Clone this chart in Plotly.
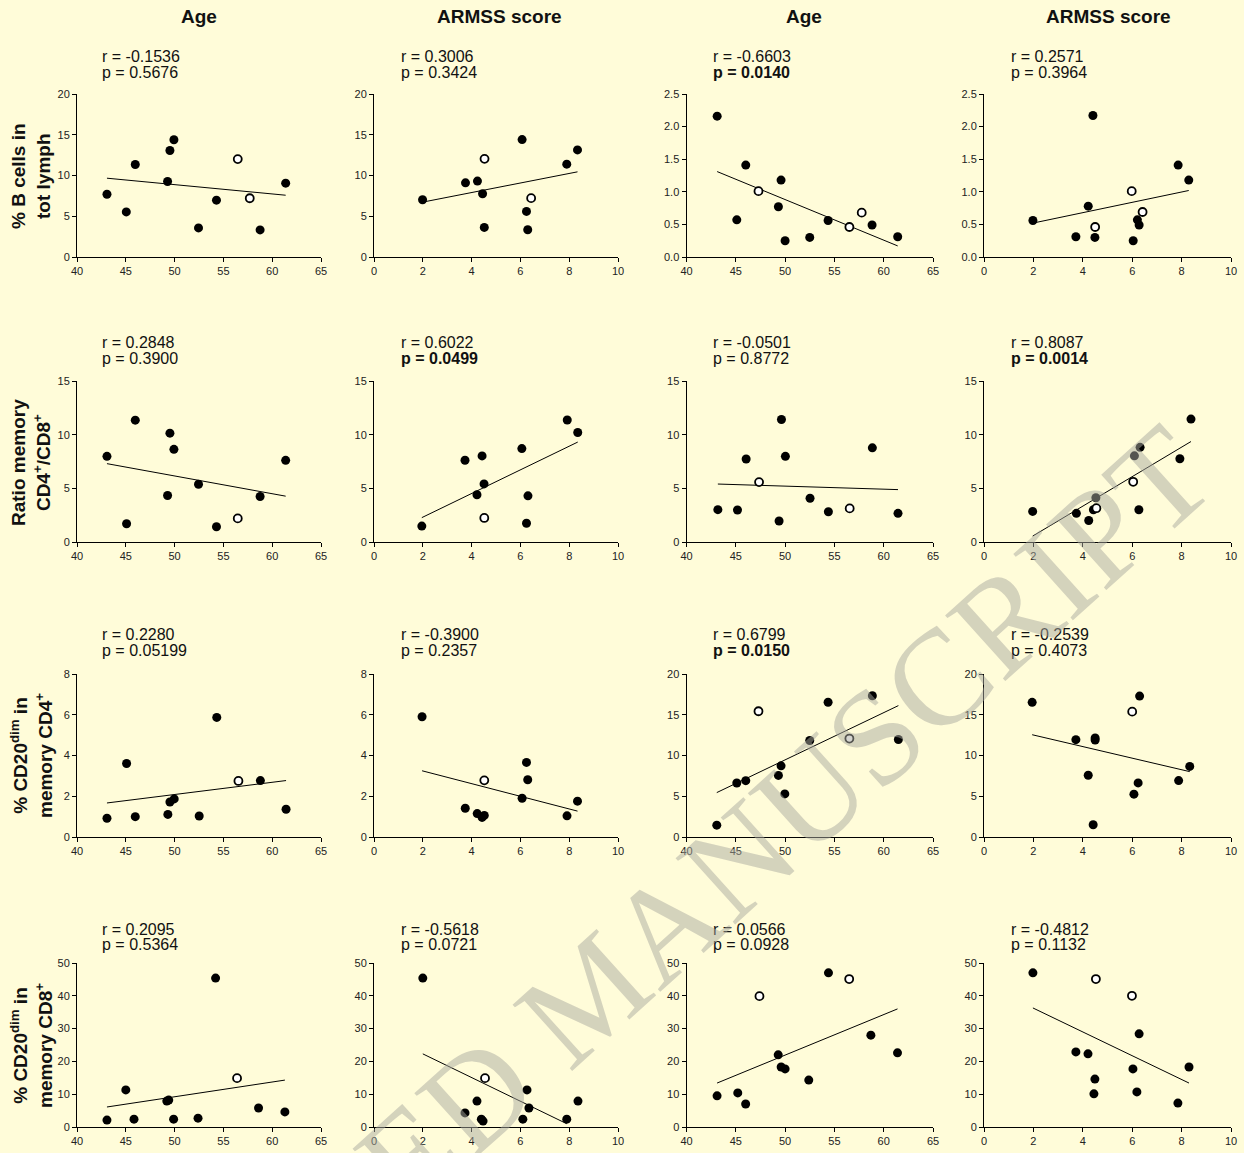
import plotly.graph_objects as go

W, H = 1244, 1153

# ---------------- data ----------------
col_titles = ["Age", "ARMSS score", "Age", "ARMSS score"]
row_titles = [
    "% B cells in<br>tot lymph",
    "Ratio memory<br>CD4<sup>+</sup>/CD8<sup>+</sup>",
    "% CD20<sup>dim</sup> in<br>memory CD4<sup>+</sup>",
    "% CD20<sup>dim</sup> in<br>memory CD8<sup>+</sup>",
]

# row 1
p11_x = [43.07, 45.05, 45.97, 49.28, 49.52, 49.93, 52.45, 54.29, 56.47, 57.70, 58.76, 61.38]
p11_y = [7.70, 5.53, 11.35, 9.26, 13.07, 14.39, 3.57, 6.97, 12.01, 7.21, 3.32, 9.06]
p11_open = [0, 0, 0, 0, 0, 0, 0, 0, 1, 1, 0, 0]
p11_fit_x = [43.07, 61.38]
p11_fit_y = [9.67, 7.58]

p12_x = [1.99, 3.75, 4.24, 4.45, 4.53, 4.52, 6.07, 6.25, 6.30, 6.44, 7.90, 8.34]
p12_y = [7.02, 9.10, 9.31, 7.76, 12.04, 3.63, 14.41, 5.59, 3.35, 7.22, 11.39, 13.14]
p12_open = [0, 0, 0, 0, 1, 0, 0, 0, 0, 1, 0, 0]
p12_fit_x = [1.99, 8.34]
p12_fit_y = [6.73, 10.45]

p13_x = [43.11, 45.10, 46.01, 47.30, 49.32, 49.59, 50.00, 52.50, 54.36, 56.52, 57.77, 58.82, 61.42]
p13_y = [2.16, 0.57, 1.41, 1.01, 0.77, 1.18, 0.25, 0.30, 0.56, 0.46, 0.68, 0.49, 0.31]
p13_open = [0, 0, 0, 1, 0, 0, 0, 0, 0, 1, 1, 0, 0]
p13_fit_x = [43.11, 61.42]
p13_fit_y = [1.31, 0.17]

p14_x = [1.98, 3.72, 4.22, 4.41, 4.49, 4.50, 5.98, 6.04, 6.21, 6.28, 6.42, 7.86, 8.29]
p14_y = [0.56, 0.31, 0.78, 2.17, 0.30, 0.46, 1.01, 0.25, 0.57, 0.49, 0.69, 1.41, 1.18]
p14_open = [0, 0, 0, 0, 0, 1, 1, 0, 0, 0, 1, 0, 0]
p14_fit_x = [1.98, 8.29]
p14_fit_y = [0.52, 1.02]

# row 2
p21_x = [43.07, 45.08, 45.97, 49.28, 49.52, 49.93, 52.45, 54.29, 56.47, 58.76, 61.38]
p21_y = [7.98, 1.70, 11.35, 4.33, 10.14, 8.63, 5.38, 1.42, 2.20, 4.24, 7.61]
p21_open = [0, 0, 0, 0, 0, 0, 0, 0, 1, 0, 0]
p21_fit_x = [43.07, 61.38]
p21_fit_y = [7.30, 4.27]

p22_x = [1.96, 3.73, 4.22, 4.43, 4.51, 4.52, 6.06, 6.25, 6.31, 7.92, 8.35]
p22_y = [1.48, 7.62, 4.40, 8.02, 5.41, 2.24, 8.70, 1.75, 4.30, 11.37, 10.20]
p22_open = [0, 0, 0, 0, 0, 1, 0, 0, 0, 0, 0]
p22_fit_x = [1.96, 8.35]
p22_fit_y = [2.27, 9.31]

p23_x = [43.18, 45.17, 46.05, 47.36, 49.39, 49.63, 50.03, 52.53, 54.39, 56.55, 58.85, 61.45]
p23_y = [3.01, 2.98, 7.73, 5.58, 1.96, 11.41, 7.98, 4.08, 2.82, 3.13, 8.77, 2.67]
p23_open = [0, 0, 0, 1, 0, 0, 0, 0, 0, 1, 0, 0]
p23_fit_x = [43.18, 61.45]
p23_fit_y = [5.40, 4.88]

p24_x = [1.97, 3.74, 4.24, 4.43, 4.53, 4.55, 6.04, 6.09, 6.27, 6.32, 7.93, 8.38]
p24_y = [2.85, 2.67, 2.00, 3.00, 4.12, 3.15, 5.61, 8.03, 3.00, 8.82, 7.76, 11.45]
p24_open = [0, 0, 0, 0, 0, 1, 1, 0, 0, 0, 0, 0]
p24_fit_x = [1.97, 8.38]
p24_fit_y = [0.55, 9.36]

# row 3
p31_x = [43.07, 45.08, 45.97, 49.31, 49.52, 49.96, 52.52, 54.32, 56.54, 58.79, 61.42]
p31_y = [0.92, 3.61, 1.00, 1.11, 1.72, 1.87, 1.03, 5.87, 2.75, 2.77, 1.36]
p31_open = [0, 0, 0, 0, 0, 0, 0, 0, 1, 0, 0]
p31_fit_x = [43.07, 61.42]
p31_fit_y = [1.67, 2.77]

p32_x = [1.97, 3.74, 4.23, 4.43, 4.52, 4.52, 6.07, 6.25, 6.30, 7.91, 8.34]
p32_y = [5.90, 1.41, 1.15, 0.96, 1.06, 2.78, 1.90, 3.66, 2.81, 1.04, 1.76]
p32_open = [0, 0, 0, 0, 0, 1, 0, 0, 0, 0, 0]
p32_fit_x = [1.97, 8.34]
p32_fit_y = [3.25, 1.27]

p33_x = [43.07, 45.10, 46.01, 47.30, 49.32, 49.59, 49.97, 52.50, 54.36, 56.52, 58.85, 61.49]
p33_y = [1.45, 6.63, 6.91, 15.43, 7.56, 8.73, 5.29, 11.84, 16.53, 12.08, 17.33, 11.96]
p33_open = [0, 0, 0, 1, 0, 0, 0, 0, 0, 1, 0, 0]
p33_fit_x = [43.07, 61.49]
p33_fit_y = [5.45, 16.12]

p34_x = [1.95, 3.72, 4.22, 4.42, 4.50, 4.50, 6.00, 6.07, 6.24, 6.30, 7.88, 8.33]
p34_y = [16.52, 11.94, 7.57, 1.50, 11.90, 12.15, 15.38, 5.26, 6.64, 17.29, 6.92, 8.66]
p34_open = [0, 0, 0, 0, 0, 0, 1, 0, 0, 0, 0, 0]
p34_fit_x = [1.95, 8.33]
p34_fit_y = [12.55, 8.02]

# row 4
p41_x = [43.07, 45.00, 45.84, 49.20, 49.40, 49.90, 52.40, 54.20, 56.40, 58.60, 61.30]
p41_y = [2.1, 11.3, 2.4, 7.9, 8.2, 2.4, 2.7, 45.4, 14.9, 5.8, 4.6]
p41_open = [0, 0, 0, 0, 0, 0, 0, 0, 1, 0, 0]
p41_fit_x = [43.07, 61.30]
p41_fit_y = [6.1, 14.3]

p42_x = [2.00, 3.73, 4.22, 4.40, 4.47, 4.55, 6.10, 6.27, 6.35, 7.90, 8.36]
p42_y = [45.4, 4.3, 7.9, 2.4, 1.8, 14.9, 2.4, 11.3, 5.8, 2.4, 7.9]
p42_open = [0, 0, 0, 0, 0, 1, 0, 0, 0, 0, 0]
p42_fit_x = [2.00, 7.90]
p42_fit_y = [22.3, 1.0]

p43_x = [43.10, 45.20, 46.00, 47.40, 49.30, 49.60, 50.00, 52.40, 54.40, 56.50, 58.70, 61.40]
p43_y = [9.5, 10.4, 7.0, 39.9, 22.0, 18.3, 17.7, 14.3, 47.0, 45.1, 28.0, 22.6]
p43_open = [0, 0, 0, 1, 0, 0, 0, 0, 0, 1, 0, 0]
p43_fit_x = [43.10, 61.40]
p43_fit_y = [13.4, 36.0]

p44_x = [1.98, 3.72, 4.21, 4.45, 4.49, 4.53, 5.99, 6.03, 6.19, 6.28, 7.85, 8.30]
p44_y = [47.0, 22.9, 22.3, 10.1, 14.6, 45.1, 40.0, 17.7, 10.7, 28.4, 7.3, 18.3]
p44_open = [0, 0, 0, 0, 0, 1, 1, 0, 0, 0, 0, 0]
p44_fit_x = [1.98, 8.30]
p44_fit_y = [36.3, 13.4]

# r / p statistics (value, p, p significant -> bold)
r_vals = [["-0.1536", "0.3006", "-0.6603", "0.2571"],
          ["0.2848", "0.6022", "-0.0501", "0.8087"],
          ["0.2280", "-0.3900", "0.6799", "-0.2539"],
          ["0.2095", "-0.5618", "0.0566", "-0.4812"]]
p_vals = [["0.5676", "0.3424", "0.0140", "0.3964"],
          ["0.3900", "0.0499", "0.8772", "0.0014"],
          ["0.05199", "0.2357", "0.0150", "0.4073"],
          ["0.5364", "0.0721", "0.0928", "0.1132"]]
p_bold = [[0, 0, 1, 0],
          [0, 1, 0, 1],
          [0, 0, 1, 0],
          [0, 0, 0, 0]]

# axes
x_ranges = [[40, 65], [0, 10], [40, 65], [0, 10]]
x_dticks = [5, 2, 5, 2]
y_ranges = [[[0, 20], [0, 20], [0, 2.5], [0, 2.5]],
            [[0, 15], [0, 15], [0, 15], [0, 15]],
            [[0, 8], [0, 8], [0, 20], [0, 20]],
            [[0, 50], [0, 50], [0, 50], [0, 50]]]
y_dticks = [[5, 5, 0.5, 0.5],
            [5, 5, 5, 5],
            [2, 2, 5, 5],
            [10, 10, 10, 10]]

panels = [
    [(p11_x, p11_y, p11_open, p11_fit_x, p11_fit_y), (p12_x, p12_y, p12_open, p12_fit_x, p12_fit_y),
     (p13_x, p13_y, p13_open, p13_fit_x, p13_fit_y), (p14_x, p14_y, p14_open, p14_fit_x, p14_fit_y)],
    [(p21_x, p21_y, p21_open, p21_fit_x, p21_fit_y), (p22_x, p22_y, p22_open, p22_fit_x, p22_fit_y),
     (p23_x, p23_y, p23_open, p23_fit_x, p23_fit_y), (p24_x, p24_y, p24_open, p24_fit_x, p24_fit_y)],
    [(p31_x, p31_y, p31_open, p31_fit_x, p31_fit_y), (p32_x, p32_y, p32_open, p32_fit_x, p32_fit_y),
     (p33_x, p33_y, p33_open, p33_fit_x, p33_fit_y), (p34_x, p34_y, p34_open, p34_fit_x, p34_fit_y)],
    [(p41_x, p41_y, p41_open, p41_fit_x, p41_fit_y), (p42_x, p42_y, p42_open, p42_fit_x, p42_fit_y),
     (p43_x, p43_y, p43_open, p43_fit_x, p43_fit_y), (p44_x, p44_y, p44_open, p44_fit_x, p44_fit_y)],
]

# ---------------- layout (pixels) ----------------
col_px = [(77, 321), (374, 618), (686.5, 933), (984, 1231)]
row_px = [(94, 257), (381, 542), (674, 837), (963, 1127)]
stat_x_px = [100, 399, 711, 1009]
stat_r_y_px = [56, 342, 634, 929]
stat_p_y_px = [72, 358, 650, 944]
col_title_x_px = [199, 499, 804, 1108]
row_title_y_px = [176, 463, 756, 1046]

BG = "#FFFCD9"
FONT = "Arial, Liberation Sans, Helvetica, sans-serif"


def px_x(p):
    return p / W


def px_y(p):
    return 1 - p / H


fig = go.Figure()
layout = dict(
    width=W, height=H,
    margin=dict(l=0, r=0, t=0, b=0, pad=0, autoexpand=False),
    paper_bgcolor=BG, plot_bgcolor=BG,
    showlegend=False,
    font=dict(family=FONT, color="#111"),
)
annotations = []

for r in range(4):
    for c in range(4):
        idx = r * 4 + c + 1
        xa = "x" if idx == 1 else f"x{idx}"
        ya = "y" if idx == 1 else f"y{idx}"
        xs, ys, op, fx, fy = panels[r][c]
        fx_ = [x for x, o in zip(xs, op) if not o]
        fy_ = [y for y, o in zip(ys, op) if not o]
        ox_ = [x for x, o in zip(xs, op) if o]
        oy_ = [y for y, o in zip(ys, op) if o]
        fig.add_trace(go.Scatter(x=fx, y=fy, mode="lines",
                                 line=dict(color="black", width=1),
                                 xaxis=xa, yaxis=ya, hoverinfo="skip"))
        fig.add_trace(go.Scatter(x=fx_, y=fy_, mode="markers",
                                 marker=dict(size=9, color="black"),
                                 xaxis=xa, yaxis=ya, cliponaxis=False))
        fig.add_trace(go.Scatter(x=ox_, y=oy_, mode="markers",
                                 marker=dict(size=8, color="white",
                                             line=dict(color="black", width=1.8)),
                                 xaxis=xa, yaxis=ya, cliponaxis=False))
        x0, x1 = col_px[c]
        y0, y1 = row_px[r]
        yfmt = ".1f" if y_dticks[r][c] < 1 else "d"
        axis_common = dict(showline=True, linecolor="black", linewidth=1,
                           ticks="outside", ticklen=4, tickwidth=1, tickcolor="black",
                           showgrid=False, zeroline=False, automargin=False,
                           tickfont=dict(family=FONT, size=11, color="#222"))
        layout["xaxis" if idx == 1 else f"xaxis{idx}"] = dict(
            domain=[px_x(x0), px_x(x1)], anchor=ya,
            range=x_ranges[c], dtick=x_dticks[c], tick0=0, **axis_common)
        layout["yaxis" if idx == 1 else f"yaxis{idx}"] = dict(
            domain=[px_y(y1), px_y(y0)], anchor=xa,
            range=y_ranges[r][c], dtick=y_dticks[r][c], tick0=0,
            tickformat=yfmt, **axis_common)

        # stats text
        annotations.append(dict(
            xref="paper", yref="paper", x=px_x(stat_x_px[c]), y=px_y(stat_r_y_px[r]),
            xanchor="left", yanchor="middle", showarrow=False,
            text=f"r = {r_vals[r][c]}", font=dict(family=FONT, size=16, color="#111")))
        ptxt = f"p = {p_vals[r][c]}"
        if p_bold[r][c]:
            ptxt = f"<b>{ptxt}</b>"
        annotations.append(dict(
            xref="paper", yref="paper", x=px_x(stat_x_px[c]), y=px_y(stat_p_y_px[r]),
            xanchor="left", yanchor="middle", showarrow=False,
            text=ptxt, font=dict(family=FONT, size=16, color="#111")))

for c in range(4):
    annotations.append(dict(
        xref="paper", yref="paper", x=px_x(col_title_x_px[c]), y=px_y(17),
        xanchor="center", yanchor="middle", showarrow=False,
        text=f"<b>{col_titles[c]}</b>", font=dict(family=FONT, size=19, color="#111")))

for r in range(4):
    annotations.append(dict(
        xref="paper", yref="paper", x=px_x(31), y=px_y(row_title_y_px[r]),
        xanchor="center", yanchor="middle", showarrow=False, textangle=-90,
        text=f"<b>{row_titles[r]}</b>", font=dict(family=FONT, size=19, color="#111")))

# watermark
annotations.append(dict(
    xref="paper", yref="paper", x=px_x(590), y=px_y(993),
    xanchor="center", yanchor="middle", showarrow=False, textangle=-42,
    text="ACCEPTED MANUSCRIPT",
    font=dict(family="Liberation Serif, Times New Roman, serif", size=136,
              color="rgba(170,170,160,0.5)")))

layout["annotations"] = annotations
fig.update_layout(**layout)
fig.write_html(
    "out.html",
    config={"displayModeBar": False},
    post_script=("document.body.style.margin='0px';"
                 "document.body.style.overflow='hidden';"
                 "document.body.style.background='" + BG + "';"),
)
